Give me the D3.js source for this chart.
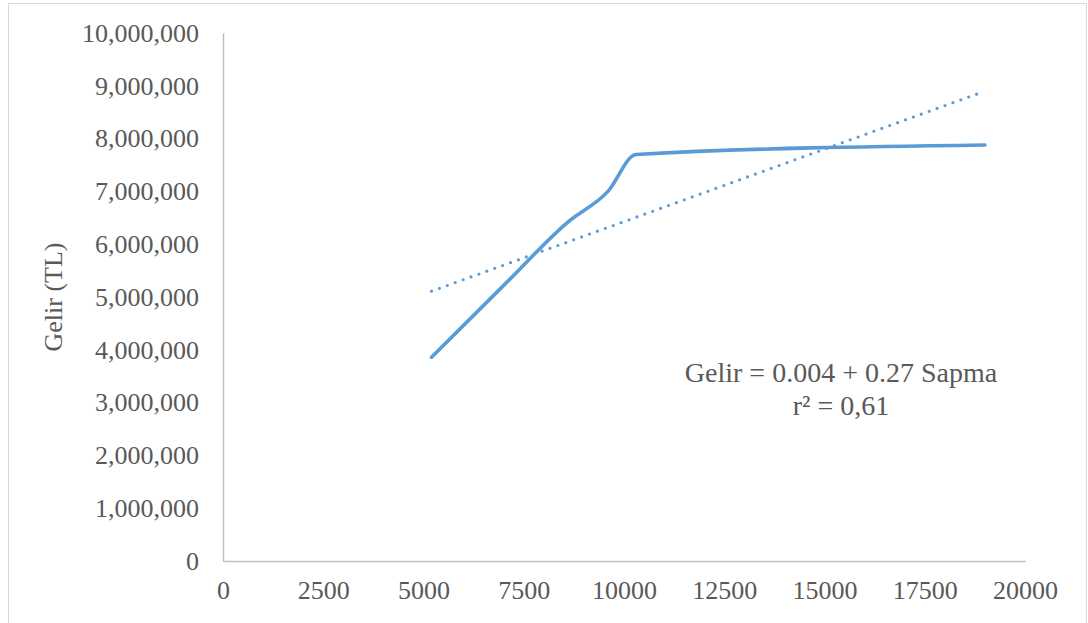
<!DOCTYPE html>
<html>
<head>
<meta charset="utf-8">
<script src="https://cdn.jsdelivr.net/npm/d3@7"></script>
<style>
  html, body { margin: 0; padding: 0; background: #fff; }
  svg { display: block; }
  text { font-family: "Liberation Serif", "Times New Roman", serif; fill: #595959; }
</style>
</head>
<body>
<svg id="chart" width="1088" height="623"></svg>
<script>
// ---- data ----
const sapma = [5200, 7000, 8600, 9600, 10300, 19000];
const gelir = [3860000, 5220000, 6420000, 7000000, 7700000, 7880000];
const trendX = [5200, 18950];
const trendY = [5110000, 8885000];
const xTicks = [0, 2500, 5000, 7500, 10000, 12500, 15000, 17500, 20000];
const yTicks = [0, 1000000, 2000000, 3000000, 4000000, 5000000, 6000000, 7000000, 8000000, 9000000, 10000000];
const yTitle = "Gelir (TL)";
const eqLine1 = "Gelir = 0.004 + 0.27 Sapma";
const eqLine2 = "r² = 0,61";

const svg = d3.select("#chart");
const mLeft = 223, mRight = 1025, mTop = 33, mBottom = 561;

// outer border
svg.append("rect")
  .attr("x", 8.5).attr("y", 3.5)
  .attr("width", 1078).attr("height", 630)
  .attr("fill", "#fff").attr("stroke", "#d9d9d9").attr("stroke-width", 1);

const x = d3.scaleLinear().domain([0, 20000]).range([mLeft, mRight]);
const y = d3.scaleLinear().domain([0, 10000000]).range([mBottom, mTop]);

const fs = 26;

// y axis
const yAxis = svg.append("g")
  .attr("transform", `translate(${mLeft},0)`)
  .call(d3.axisLeft(y).tickValues(yTicks).tickFormat(d3.format(",")).tickSize(0).tickSizeOuter(0).tickPadding(24));
yAxis.select(".domain").attr("stroke", "#bfbfbf").attr("stroke-width", 1.5);
yAxis.selectAll("text").attr("font-size", fs).attr("fill", "#595959")
  .style("font-family", "'Liberation Serif', serif");

// x axis
const xAxis = svg.append("g")
  .attr("transform", `translate(0,${mBottom})`)
  .call(d3.axisBottom(x).tickValues(xTicks).tickFormat(d => String(d)).tickSize(0).tickSizeOuter(0).tickPadding(20));
xAxis.select(".domain").attr("stroke", "#bfbfbf").attr("stroke-width", 1.5);
xAxis.selectAll("text").attr("font-size", fs).attr("fill", "#595959")
  .style("font-family", "'Liberation Serif', serif");

// y title
svg.append("text")
  .attr("transform", `translate(62,${(mTop + mBottom) / 2}) rotate(-90)`)
  .attr("text-anchor", "middle")
  .attr("font-size", fs)
  .text(yTitle);

// trend line (dotted)
const trendData = trendX.map((d, i) => [d, trendY[i]]);
svg.append("path")
  .datum(trendData)
  .attr("fill", "none")
  .attr("stroke", "#5b9bd5")
  .attr("stroke-width", 3.2)
  .attr("stroke-linecap", "round")
  .attr("stroke-dasharray", "0 8.4")
  .attr("d", d3.line().x(d => x(d[0])).y(d => y(d[1])));

// main line
const lineData = sapma.map((d, i) => [d, gelir[i]]);
svg.append("path")
  .datum(lineData)
  .attr("fill", "none")
  .attr("stroke", "#5b9bd5")
  .attr("stroke-width", 3.6)
  .attr("stroke-linecap", "round")
  .attr("stroke-linejoin", "round")
  .attr("d", d3.line().x(d => x(d[0])).y(d => y(d[1])).curve(d3.curveMonotoneX));

// equation
svg.append("text")
  .attr("x", 841).attr("y", 382)
  .attr("text-anchor", "middle")
  .attr("font-size", 28)
  .text(eqLine1);
svg.append("text")
  .attr("x", 841).attr("y", 415)
  .attr("text-anchor", "middle")
  .attr("font-size", 28)
  .text(eqLine2);
</script>
</body>
</html>
